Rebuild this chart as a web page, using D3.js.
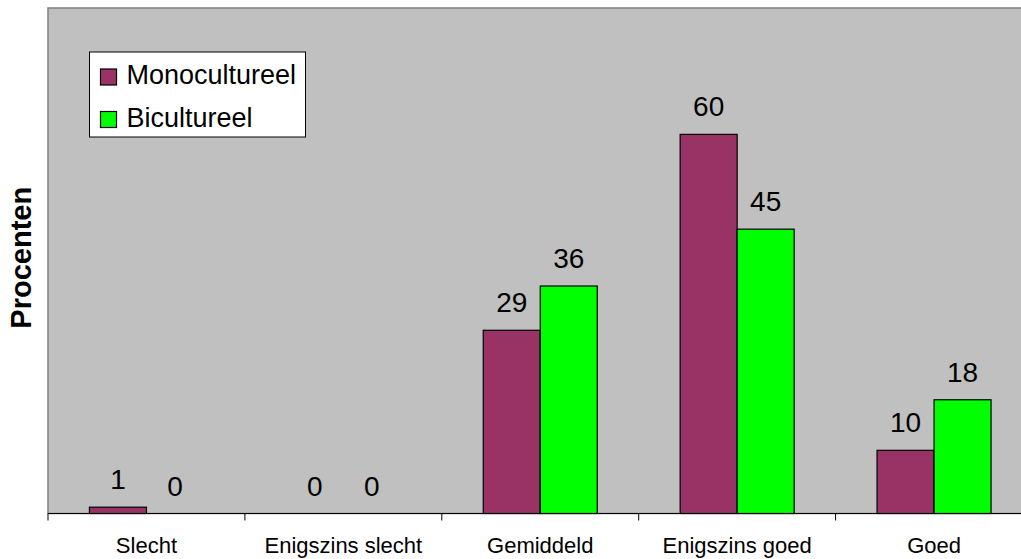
<!DOCTYPE html>
<html>
<head>
<meta charset="utf-8">
<script src="https://cdn.jsdelivr.net/npm/d3@7"></script>
<style>
  body { margin: 0; background: #ffffff; }
  svg { display: block; font-family: Arial, "Liberation Sans", sans-serif; }
</style>
</head>
<body>
<div id="chart"></div>
<script>
// --- DATA ---
var categories = ["Slecht", "Enigszins slecht", "Gemiddeld", "Enigszins goed", "Goed"];
var seriesNames = ["Monocultureel", "Bicultureel"];
var monoValues = [1, 0, 29, 60, 10];
var biValues = [0, 0, 36, 45, 18];
var seriesColors = ["#993366", "#00FF00"];

// --- SETUP ---
var width = 1021;
var height = 559;
var plot = { left: 48, top: 8, bottom: 513.5, band: 196.9 };

var svg = d3.select("#chart").append("svg")
  .attr("width", width)
  .attr("height", height);

var x0 = d3.scaleBand()
  .domain(categories)
  .range([plot.left, plot.left + plot.band * categories.length])
  .padding(0);

var x1 = d3.scaleBand()
  .domain(seriesNames)
  .range([0, x0.bandwidth()])
  .paddingInner(0)
  .paddingOuter(0.727);

var y = d3.scaleLinear().domain([0, 80]).range([plot.bottom, plot.top]);

// plot background
svg.append("rect")
  .attr("x", plot.left)
  .attr("y", plot.top)
  .attr("width", x0.range()[1] - plot.left)
  .attr("height", plot.bottom - plot.top)
  .attr("fill", "#C0C0C0")
  .attr("stroke", "#808080")
  .attr("stroke-width", 1.5);

// bars
var rows = categories.map(function(c, i) {
  return { cat: c, values: [monoValues[i], biValues[i]] };
});

var groups = svg.selectAll(".cat")
  .data(rows)
  .enter().append("g")
  .attr("class", "cat")
  .attr("transform", function(d) { return "translate(" + x0(d.cat) + ",0)"; });

groups.selectAll("rect")
  .data(function(d) { return d.values.map(function(v, j) { return { s: seriesNames[j], v: v, j: j }; }); })
  .enter().append("rect")
  .filter(function(d) { return d.v > 0; })
  .attr("x", function(d) { return x1(d.s); })
  .attr("y", function(d) { return y(d.v); })
  .attr("width", x1.bandwidth())
  .attr("height", function(d) { return plot.bottom - y(d.v); })
  .attr("fill", function(d) { return seriesColors[d.j]; })
  .attr("stroke", "#000")
  .attr("stroke-width", 1.2);

groups.selectAll("text.val")
  .data(function(d) { return d.values.map(function(v, j) { return { s: seriesNames[j], v: v }; }); })
  .enter().append("text")
  .attr("class", "val")
  .attr("x", function(d) { return x1(d.s) + x1.bandwidth() / 2; })
  .attr("y", function(d) { return y(d.v) - 18; })
  .attr("text-anchor", "middle")
  .attr("font-size", 28)
  .attr("fill", "#000")
  .text(function(d) { return d.v; });

// x axis
var axisG = svg.append("g")
  .attr("transform", "translate(0," + plot.bottom + ")");
axisG.append("line")
  .attr("x1", plot.left).attr("x2", x0.range()[1])
  .attr("stroke", "#000").attr("stroke-width", 1.2);
axisG.selectAll("line.tick")
  .data(categories)
  .enter().append("line")
  .attr("class", "tick")
  .attr("x1", function(d) { return x0(d); })
  .attr("x2", function(d) { return x0(d); })
  .attr("y1", 0).attr("y2", 7)
  .attr("stroke", "#000");
axisG.selectAll("text.cat")
  .data(categories)
  .enter().append("text")
  .attr("class", "cat")
  .attr("x", function(d) { return x0(d) + x0.bandwidth() / 2; })
  .attr("y", 39.5)
  .attr("text-anchor", "middle")
  .attr("font-size", 22)
  .text(function(d) { return d; });

// y axis title
svg.append("text")
  .attr("transform", "translate(30.5," + ((plot.top + plot.bottom) / 2 - 3) + ") rotate(-90)")
  .attr("text-anchor", "middle")
  .attr("font-size", 29)
  .attr("font-weight", "bold")
  .text("Procenten");

// legend
var legend = svg.append("g").attr("transform", "translate(89.5,52)");
legend.append("rect")
  .attr("width", 216).attr("height", 85)
  .attr("fill", "#fff").attr("stroke", "#000").attr("stroke-width", 1);
seriesNames.forEach(function(name, i) {
  var row = legend.append("g").attr("transform", "translate(11," + (17 + i * 42.5) + ")");
  row.append("rect")
    .attr("width", 16).attr("height", 16)
    .attr("fill", seriesColors[i]).attr("stroke", "#000").attr("stroke-width", 1.2);
  row.append("text")
    .attr("x", 26).attr("y", 15)
    .attr("font-size", 27)
    .text(name);
});
</script>
</body>
</html>
